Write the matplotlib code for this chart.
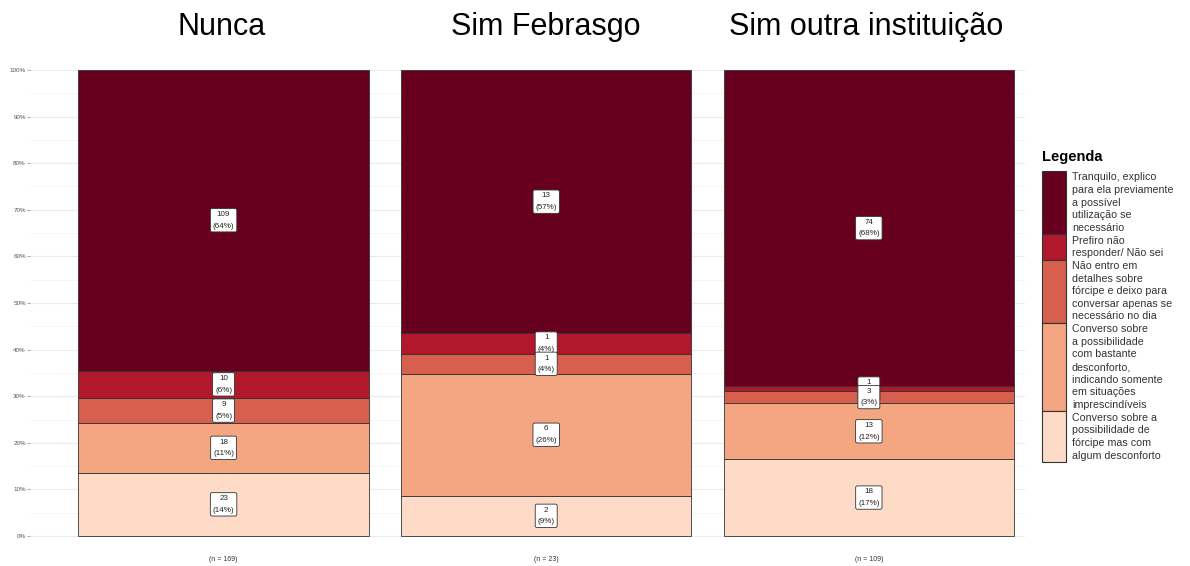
import matplotlib.pyplot as plt
import numpy as np

plt.rcParams['font.family'] = ['Liberation Sans', 'DejaVu Sans']

groups = ['Nunca', 'Sim Febrasgo', 'Sim outra instituição']
# stack order, bottom -> top
categories = [
    'Converso sobre a\npossibilidade de\nfórcipe mas com\nalgum desconforto',
    'Converso sobre\na possibilidade\ncom bastante\ndesconforto,\nindicando somente\nem situações\nimprescindíveis',
    'Não entro em\ndetalhes sobre\nfórcipe e deixo para\nconversar apenas se\nnecessário no dia',
    'Prefiro não\nresponder/ Não sei',
    'Tranquilo, explico\npara ela previamente\na possível\nutilização se\nnecessário',
]
colors = ['#FDDBC7', '#F4A582', '#D6604D', '#B2182B', '#67001F']

counts = np.array([
    [23, 2, 18],
    [18, 6, 13],
    [9, 1, 3],
    [10, 1, 1],
    [109, 13, 74],
])
totals = counts.sum(axis=0)
shares = counts / totals

W, H = 1190, 566
fig = plt.figure(figsize=(W / 100, H / 100), dpi=100)

# main axes in pixel layout
left, right, top, bottom = 30, 1025, 69, 537
ax = fig.add_axes([left / W, 1 - bottom / H, (right - left) / W, (bottom - top) / H])
x = np.arange(len(groups))
ax.set_xlim(-0.6, 2.484)
ax.set_ylim(-0.002, 1.002)

ax.set_yticks(np.arange(0, 1.01, 0.1))
ax.set_yticks(np.arange(0.05, 1, 0.1), minor=True)
ax.set_yticklabels([f'{int(round(t * 100))}%' for t in np.arange(0, 1.01, 0.1)])
ax.grid(axis='y', which='major', color='#ebebeb', linewidth=0.8)
ax.grid(axis='y', which='minor', color='#f4f4f4', linewidth=0.6)
ax.set_axisbelow(True)
ax.tick_params(axis='y', which='major', labelsize=4.5, length=2, width=0.5,
               color='#888888', labelcolor='#555555', pad=1)
ax.tick_params(axis='y', which='minor', length=0)
ax.set_xticks([])
for s in ax.spines.values():
    s.set_visible(False)

bottoms = np.zeros(len(groups))
for i in range(len(categories)):
    ax.bar(x, shares[i], bottom=bottoms, width=0.9, color=colors[i],
           edgecolor='#333333', linewidth=0.6, zorder=2)
    bottoms = bottoms + shares[i]

# value labels: drawn top -> bottom so lower boxes sit over upper ones
cum = np.cumsum(shares, axis=0)
z = 3
for i in reversed(range(len(categories))):
    for j in range(len(groups)):
        mid = cum[i, j] - shares[i, j] / 2
        pct = int(np.floor(shares[i, j] * 100 + 0.5))
        ax.text(x[j], mid, f'{counts[i, j]}\n({pct}%)', ha='center', va='center',
                fontsize=5.8, color='#222222', zorder=z, linespacing=1.9,
                bbox=dict(boxstyle='round,pad=0.3,rounding_size=0.2', fc='white',
                          ec='#333333', lw=0.6))
        z += 1

for j in range(len(groups)):
    ax.text(x[j], -0.051, f'(n = {totals[j]})', ha='center', va='center',
            fontsize=5, color='#333333', clip_on=False)

# facet titles
title_x = [222, 546, 866]
for j, g in enumerate(groups):
    fig.text(title_x[j] / W, 1 - 27 / H, g, ha='center', va='center', fontsize=22)

# legend drawn in pixel coordinates
lg = fig.add_axes([0, 0, 1, 1], facecolor='none')
lg.set_xlim(0, W)
lg.set_ylim(H, 0)
lg.axis('off')
lg.text(1042, 157, 'Legenda', fontsize=10.5, fontweight='bold', ha='left', va='center')
pitch = 12.65
ytop = 171
for i in reversed(range(len(categories))):
    lines = categories[i].split('\n')
    h = len(lines) * pitch
    lg.add_patch(plt.Rectangle((1042, ytop), 24, h, facecolor=colors[i],
                               edgecolor='#333333', linewidth=0.8))
    for k, line in enumerate(lines):
        lg.text(1072, ytop + (k + 0.5) * pitch, line, fontsize=7.7, color='#333333',
                ha='left', va='center')
    ytop += h

fig.savefig('out.png', dpi=100)
